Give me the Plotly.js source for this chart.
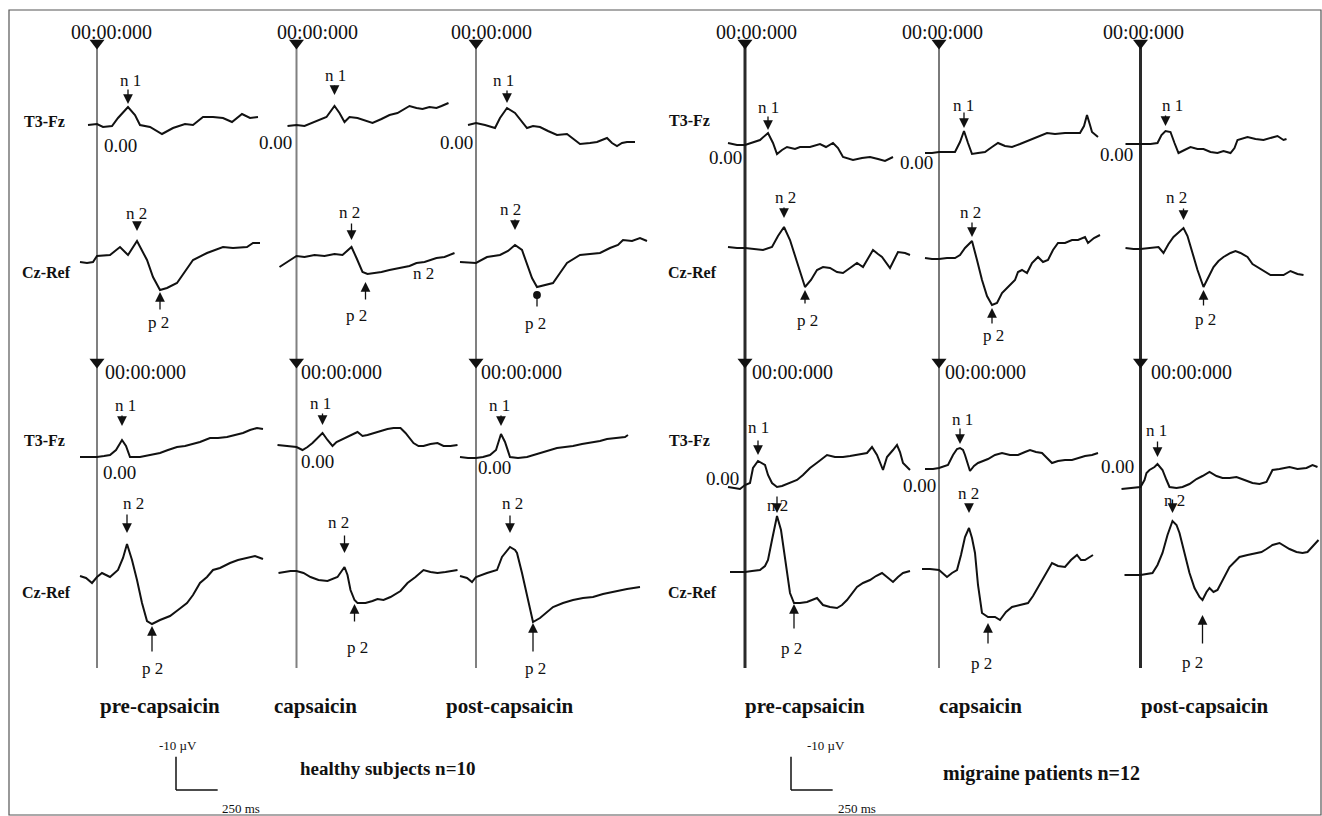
<!DOCTYPE html>
<html><head><meta charset="utf-8">
<script src="https://cdn.plot.ly/plotly-3.0.1.min.js"></script>
<style>html,body{margin:0;padding:0;background:#fff}#chart{width:1322px;height:816px}</style>
</head><body><div id="chart"></div>
<script>
// ================= DATA =================
const columnLabels = ['pre-capsaicin','capsaicin','post-capsaicin','pre-capsaicin','capsaicin','post-capsaicin'];
const groupLabels = ['healthy subjects n=10','migraine patients n=12'];
const channelLabels = ['T3-Fz','Cz-Ref'];
const onsetLabel = '00:00:000';
const zeroLabel = '0.00';
const scaleAmpLabel = '-10 µV';
const scaleTimeLabel = '250 ms';
const scaleAmp = -10;   // µV
const scaleTime = 250;  // ms

// time (ms) / amplitude (µV, negative up) — upper block
const hPreT3_t  = [-54,0,36,90,126,186,228,258,318,390,456,528,576,636,696,756,810,870,918,966];
const hPreT3_v  = [0,-0.3,0.6,0.3,-2.1,-5.4,-3,0,0.6,2.7,0.9,-0.3,0,-2.4,-2.4,-2.1,-0.9,-3.3,-2.1,-2.4];
const hPreCz_t  = [-102,-60,-24,0,78,138,186,240,300,336,378,420,480,528,576,660,756,816,900,936,978];
const hPreCz_v  = [1.5,1.8,1.5,-0.3,-0.6,-3,-0.6,-4.8,0.9,6,9.9,9.3,7.8,4.5,0.9,-1.2,-3,-2.7,-3,-4.2,-4.2];
const hCapT3_t  = [-54,0,48,108,180,228,258,288,318,366,408,456,510,558,606,648,678,720,756,798,840,870,912];
const hCapT3_v  = [0.3,0,0.3,-0.9,-2.4,-5.7,-3.6,-0.9,-2.4,-2.1,-1.5,-0.6,-1.8,-3,-3.6,-4.8,-5.7,-5.1,-4.8,-5.4,-5.1,-5.7,-6.6];
const hCapCz_t  = [-102,-42,0,48,108,168,228,276,306,330,360,396,426,468,510,558,618,678,720,768,840,888,948];
const hCapCz_v  = [3.3,1.2,0,0.3,-0.3,0,-0.6,-0.3,-1.8,-2.7,0.6,4.8,5.4,5.1,4.8,4.2,3.6,3,2.1,1.8,0.6,0.3,-0.9];
const hPostT3_t = [-48,0,54,114,144,186,234,276,306,342,384,432,486,546,594,624,684,726,786,816,846,876,906,954];
const hPostT3_v = [0.6,0,0.6,1.5,-1.5,-4.5,-3,-0.3,1.5,0.9,1.2,2.4,3.6,3.3,5.1,6.3,6,5.7,4.5,6,6.9,6,5.7,5.7];
const hPostCz_t = [-96,-36,0,66,144,192,234,276,306,336,366,414,462,504,546,624,684,744,804,852,882,936,984,1026];
const hPostCz_v = [-0.3,0,0,-1.8,-2.4,-3.6,-5.4,-3.9,0,4.5,7.2,6.6,6,3,0,-2.4,-2.7,-3,-4.5,-5.4,-6.9,-6.6,-7.5,-6.6];
const mPreT3_t  = [-102,-48,0,42,90,138,168,192,222,252,300,330,390,450,486,528,558,588,648,702,750,798,840,888];
const mPreT3_v  = [-0.6,0,0,-0.6,-1.5,-3.6,-0.6,2.7,1.5,0.6,1.2,0.6,0.6,-0.3,0.6,-0.6,0.9,3.6,4.5,3.9,3.6,4.2,4.8,3.6];
const mPreCz_t  = [-102,-48,0,60,108,162,198,234,270,312,360,396,432,468,510,552,588,630,672,708,738,768,798,822,870,918,960,990];
const mPreCz_v  = [-0.3,0,0,0.3,0.6,-0.3,-3.6,-6.3,-2.4,4.2,11.7,9.6,6.6,5.7,6,7.2,7.5,6,4.5,5.7,3,0.6,1.8,2.7,6,1.2,1.5,2.1];
const mCapT3_t  = [-84,-42,0,54,96,126,150,174,198,234,276,318,354,396,438,486,558,606,648,696,756,804,846,870,888,906,918,954];
const mCapT3_v  = [0.3,0.3,0,0,0,-3,-6.3,-2.7,0.6,0.3,0,-1.5,-2.7,-1.8,-1.5,-2.4,-3.9,-4.8,-5.7,-5.4,-5.7,-5.7,-5.7,-7.8,-11.1,-8.1,-6,-4.5];
const mCapCz_t  = [-84,-42,0,48,96,126,156,198,228,258,288,318,348,378,414,456,474,498,528,558,594,624,654,684,714,756,798,834,876,894,930,966];
const mCapCz_v  = [-0.3,0,0,-0.3,-0.3,-1.2,-3.3,-5.4,0.3,6.3,11.1,13.8,13.2,10.2,8.4,6.3,3.9,3.3,4.2,1.2,-0.6,0.9,0.3,-2.7,-4.8,-4.8,-5.7,-5.7,-6.6,-4.8,-6.3,-7.2];
const mPostT3_t = [-90,-48,0,60,102,126,150,180,204,228,264,300,342,378,420,462,498,540,564,582,642,690,738,780,822,858,876];
const mPostT3_v = [0,0,0,0,-0.3,-2.7,-3.9,-3.6,-0.3,2.7,1.8,0.9,1.5,1.5,2.4,2.7,2.1,2.7,1.2,-1.2,-2.1,-1.5,-1.2,-1.8,-2.4,-1.2,-1.5];
const mPostCz_t = [-90,-42,0,60,108,138,168,198,228,258,282,300,342,378,408,438,468,498,540,570,600,642,672,702,738,780,822,858,900,942,978];
const mPostCz_v = [-0.3,0,0,-0.3,-0.6,1.2,-1.5,-3.6,-5.1,-6.3,-3.9,-0.6,6.3,11.4,8.4,5.4,3.6,2.4,1.2,0.6,1.2,2.4,4.5,5.4,6.6,7.8,7.8,7.8,6.6,7.5,7.8];

// lower block
const hPreT3b_t  = [-102,-42,0,42,78,114,150,174,198,258,318,378,426,480,528,576,618,678,726,780,828,876,918,960,996];
const hPreT3b_v  = [0,0,0,-0.3,-0.6,-2.1,-5.1,-3.3,0,0,-0.6,-1.2,-2.1,-3,-3.3,-3.9,-4.5,-5.7,-5.7,-6,-6.6,-7.2,-8.1,-8.7,-8.4];
const hPreCzb_t  = [-102,-66,-30,0,30,78,126,156,180,210,240,270,300,330,378,438,486,540,576,618,660,696,738,798,846,900,948,996];
const hPreCzb_v  = [-0.3,0.3,1.8,0,-1.2,0,-2.1,-5.7,-9.9,-5.1,0.9,7.8,13.2,14.1,12.9,11.7,9.9,7.8,5.4,1.8,0,-2.1,-2.7,-4.2,-5.1,-5.7,-6.3,-5.4];
const hCapT3b_t  = [-114,-66,-36,0,36,66,96,126,156,186,216,240,264,306,366,396,426,486,546,582,624,654,702,732,762,804,846,882,924,966];
const hCapT3b_v  = [-0.6,-0.3,-0.3,0,0.9,0,-1.2,-2.7,-4.2,-2.1,-0.3,-1.5,-2.1,-3,-4.5,-3.3,-3.6,-4.5,-5.4,-5.7,-5.7,-4.2,-1.2,-0.3,-0.3,-0.9,-1.2,-0.3,-0.3,-0.6];
const hCapCzb_t  = [-108,-36,0,42,84,132,186,222,246,288,306,324,348,366,414,456,486,522,564,624,666,714,762,804,846,894,966];
const hCapCzb_v  = [0.6,0,0,0.6,1.8,2.7,3,2.4,1.8,-1.2,1.2,5.7,8.7,9.6,9.6,9,8.4,8.7,7.8,6,3.6,1.8,-0.3,0.3,0.6,0.3,-0.3];
const hPostT3b_t = [-96,-48,0,42,84,120,150,174,204,252,306,384,432,486,534,582,636,684,744,786,834,864,894,912];
const hPostT3b_v = [-0.3,0,0,-0.3,-0.9,-2.4,-7.2,-4.8,-0.3,0,-0.3,-1.5,-2.1,-3,-3.3,-3.6,-4.2,-4.5,-5.1,-5.7,-6,-6,-6.3,-6.9];
const hPostCzb_t = [-96,-54,-24,0,66,126,156,186,204,234,246,276,306,342,384,426,462,522,582,642,702,762,822,864,906,984];
const hPostCzb_v = [-0.3,0.3,1.5,0,-1.2,-2.1,-6,-8.1,-9,-8.1,-7.2,-1.2,5.4,13.5,12.3,10.5,9,7.8,6.9,6.3,6,5.1,4.5,3.9,3.6,3];
const mPreT3b_t  = [-102,-30,0,30,48,78,120,138,162,192,222,252,312,348,390,438,492,540,588,630,672,732,762,792,828,852,888,912,930,948,990];
const mPreT3b_v  = [0.6,1.2,0,-0.6,-5.1,-7.2,-6,-3,-0.6,0.6,0.3,-0.3,-1.5,-3,-5.1,-6.9,-9,-8.4,-8.4,-8.7,-9,-9.6,-11.4,-9,-4.5,-8.4,-10.5,-12,-9.9,-6.6,-4.5];
const mPreCzb_t  = [-90,-42,0,42,90,120,138,162,192,216,240,270,294,330,372,402,432,468,510,552,582,612,642,672,708,750,786,822,852,888,918,948,990];
const mPreCzb_v  = [0,0,0,-0.3,-0.6,-1.8,-3.6,-9.6,-16.8,-12.6,-4.5,6.3,9.3,9.3,9,8.4,7.8,9.9,10.5,10.8,9.9,8.4,6.3,4.5,3.3,2.4,1.2,0.3,1.5,3,1.5,0.3,-0.3];
const mCapT3b_t  = [-84,-36,0,54,84,108,126,144,156,186,210,234,264,294,336,378,426,474,516,546,582,618,648,678,714,756,798,834,876,918,954];
const mCapT3b_v  = [0.3,0.3,0,-0.9,-3.9,-5.7,-6,-5.4,-3.9,0.9,-0.6,-1.5,-2.1,-2.7,-3.9,-4.5,-3.9,-3.9,-4.8,-5.4,-4.8,-4.5,-3,-1.5,-2.1,-2.4,-2.4,-3,-3.6,-3.9,-4.5];
const mCapCzb_t  = [-102,-54,0,24,48,78,108,132,156,180,198,216,234,258,294,336,366,402,438,486,534,564,594,636,678,714,756,792,828,852,876,924];
const mCapCzb_v  = [-0.3,-0.3,0,1.2,2.1,0.9,0,-4.5,-9.9,-12.6,-9.6,-5.1,4.5,12.9,14.1,14.1,15,12.6,11.1,10.5,9.9,7.8,5.1,1.5,-2.1,-1.2,-0.9,-3,-4.5,-3,-3,-4.5];
const mPostT3b_t = [-114,-54,0,24,36,54,84,102,132,156,174,216,252,294,336,372,414,456,492,534,576,624,672,714,756,774,792,834,894,942,996,1032,1062];
const mPostT3b_v = [0.6,0.3,0,-2.1,-4.2,-5.1,-6,-6.9,-5.1,-2.1,0,0.3,0,-0.9,-2.4,-3.3,-4.5,-3.3,-2.7,-2.7,-3,-2.1,-1.2,-0.9,-1.5,-3.3,-5.1,-5.4,-6,-5.4,-5.7,-6.6,-6];
const mPostCzb_t = [-96,-48,0,72,102,132,162,192,216,234,264,294,324,354,372,396,414,438,462,498,534,564,594,642,696,726,756,792,834,864,894,936,972,1002,1026,1068];
const mPostCzb_v = [0,0,0,-0.6,-3,-6.6,-12,-16.2,-15,-12.6,-6.9,-0.6,3.9,6.6,7.5,5.1,3.9,5.1,4.5,0.9,-2.4,-3.9,-5.4,-6,-6.6,-6.9,-7.8,-9,-9.6,-8.7,-7.8,-6.9,-6.6,-6.9,-8.1,-10.5];

// peak markers: order per column (upper block, then lower block): n1 on T3-Fz, n2 and p2 on Cz-Ref
const peakLabels = ['n 1','n 2','p 2'];
const peakLatencyUpper = [186,240,378, 228,330,414, 186,234,366, 138,234,360, 150,198,318, 150,258,378];
const peakLatencyLower = [150,180,330, 156,288,348, 150,204,342, 78,192,294, 126,180,294, 102,192,372];
const extraLabel = 'n 2';

// ================= LAYOUT / DRAWING =================
const W = 1322, H = 816;
const MS_PER_PX = 6, UV_PER_PX = 0.3;
const FONT = '"Liberation Serif","Times New Roman",serif';
const INK = '#111';
const colX0 = [97, 296.5, 476, 745, 939, 1140.5];
const rowBase = [
  [125,125,123,145,152,144],
  [257,256,263,248,259,249],
  [457,447,458,485,468,487],
  [577,571,577,572,570,575]
];
const colLine = [
  {color:'#808080',width:2},{color:'#808080',width:2},{color:'#808080',width:2},
  {color:'#2a2a2a',width:3},{color:'#7a7a7a',width:2},{color:'#2a2a2a',width:3}
];

const series = [
  [hPreT3_t,hPreT3_v,hPreCz_t,hPreCz_v,hPreT3b_t,hPreT3b_v,hPreCzb_t,hPreCzb_v],
  [hCapT3_t,hCapT3_v,hCapCz_t,hCapCz_v,hCapT3b_t,hCapT3b_v,hCapCzb_t,hCapCzb_v],
  [hPostT3_t,hPostT3_v,hPostCz_t,hPostCz_v,hPostT3b_t,hPostT3b_v,hPostCzb_t,hPostCzb_v],
  [mPreT3_t,mPreT3_v,mPreCz_t,mPreCz_v,mPreT3b_t,mPreT3b_v,mPreCzb_t,mPreCzb_v],
  [mCapT3_t,mCapT3_v,mCapCz_t,mCapCz_v,mCapT3b_t,mCapT3b_v,mCapCzb_t,mCapCzb_v],
  [mPostT3_t,mPostT3_v,mPostCz_t,mPostCz_v,mPostT3b_t,mPostT3b_v,mPostCzb_t,mPostCzb_v]
];

const layout = {
  width:W, height:H, margin:{l:0,r:0,t:0,b:0},
  paper_bgcolor:'#ffffff', plot_bgcolor:'rgba(0,0,0,0)',
  showlegend:false, shapes:[], annotations:[], hovermode:false
};

function xRef(c){ return c===0 ? 'x' : 'x'+(c+1); }
for(let c=0;c<6;c++){
  layout[c===0?'xaxis':'xaxis'+(c+1)] = {domain:[0,1], range:[-colX0[c]*MS_PER_PX,(W-colX0[c])*MS_PER_PX],
    visible:false, fixedrange:true, anchor:'free', position:0};
}
let yCount = 0;
function addY(basePx, unitPerPx){
  yCount++;
  layout[yCount===1?'yaxis':'yaxis'+yCount] = {domain:[0,1], range:[(H-basePx)*unitPerPx, -basePx*unitPerPx],
    visible:false, fixedrange:true, anchor:'free', position:0};
  return yCount===1 ? 'y' : 'y'+yCount;
}
const yPix = addY(0,1);
const yScale = addY(790, UV_PER_PX);

const data = [];
const panelY = [];
for(let c=0;c<6;c++){
  panelY.push([]);
  for(let r=0;r<4;r++){
    const yr = addY(rowBase[r][c], UV_PER_PX);
    panelY[c].push(yr);
    data.push({type:'scatter', mode:'lines', x:series[c][2*r], y:series[c][2*r+1],
      xaxis:xRef(c), yaxis:yr, line:{color:INK,width:2}, hoverinfo:'skip'});
  }
  // onset triangles
  data.push({type:'scatter', mode:'markers', x:[0,0], y:[43,362], xaxis:xRef(c), yaxis:yPix,
    marker:{symbol:'triangle-down', size:13, color:INK}, hoverinfo:'skip'});
  // onset vertical line
  layout.shapes.push({type:'line', layer:'below', xref:xRef(c), yref:yPix, x0:0, x1:0, y0:43, y1:668, line:colLine[c]});
}

// frame
layout.shapes.push({type:'rect', xref:'paper', yref:yPix, x0:9/W, x1:1321/W, y0:10, y1:815, line:{color:'#555',width:1.2}});

// scale bars (drawn with the library scales)
[[0,474],[3,276]].forEach(([c,t0])=>{
  layout.shapes.push({type:'line', xref:xRef(c), yref:yScale, x0:t0, x1:t0, y0:0, y1:scaleAmp, line:{color:INK,width:1.5}});
  layout.shapes.push({type:'line', xref:xRef(c), yref:yScale, x0:t0, x1:t0+scaleTime, y0:0, y1:0, line:{color:INK,width:1.5}});
});

function txt(x,y,text,size,extra){
  return Object.assign({xref:'paper', yref:'paper', x:x/W, y:1-y/H, text:text, showarrow:false,
    font:{family:FONT,size:size,color:INK}, xanchor:'center', yanchor:'middle'}, extra||{});
}
const A = layout.annotations;

// onset labels
[111.7,317,492,756,942,1143].forEach(x=>A.push(txt(x,32,onsetLabel,20)));
[103,299,479,750,943,1149].forEach(x=>A.push(txt(x,372,onsetLabel,20,{xanchor:'left'})));
// baseline labels
[[120,145],[275,142],[456,142],[725,157],[916,163],[1116,154],
 [119,472],[317,461],[494,468],[722,478],[919,485],[1117,466]].forEach(p=>A.push(txt(p[0],p[1],zeroLabel,19)));
// channel labels
[[67,121,0],[73,273,1],[67,440,0],[73,592,1],[712,120,0],[719,273,1],[712,440,0],[719,592,1]].forEach(p=>
  A.push(txt(p[0],p[1],'<b>'+channelLabels[p[2]]+'</b>',16,{xanchor:'right'})));
// condition labels
[160,315,510,805,980,1205].forEach((x,i)=>A.push(txt(x,706,'<b>'+columnLabels[i]+'</b>',21)));
A.push(txt(388,768,'<b>'+groupLabels[0]+'</b>',19));
A.push(txt(1041,773,'<b>'+groupLabels[1]+'</b>',20));
// scale labels
A.push(txt(178,745,scaleAmpLabel,13)); A.push(txt(826,745,scaleAmpLabel,13));
A.push(txt(241,808,scaleTimeLabel,13)); A.push(txt(857,808,scaleTimeLabel,13));
A.push(txt(423,274,extraLabel,17));

// peak arrows + labels : [labelDy, tailDy, standoff, labelDx] in px relative to the peak
const peakPlacement = [
  [-27,-19,3,2],[-28,-20,10,-1],[32,21,2,-2],
  [-31,-22,11,1],[-35,-25,7,-2],[41,27,8,-9],
  [-28,-19,5,-4],[-36,-27,15,-5],[36,21,8,-2],
  [-26,-18,3,0],[-30,-21,9,1],[33,18,3,2],
  [-26,-20,3,-1],[-29,-20,4,-2],[30,20,3,1],
  [-26,-17,5,7],[-31,-21,8,-7],[32,20,3,2],
  [-35,-26,14,3],[-41,-31,11,6],[44,29,2,0],
  [-30,-21,8,-2],[-45,-33,14,-6],[47,23,4,3],
  [-29,-20,8,-2],[-44,-33,14,2],[46,31,1,2],
  [-34,-22,6,0],[-11,-21,3,0],[45,27,1,-3],
  [-29,-21,4,2],[-35,-25,15,-1],[46,28,6,-7],
  [-34,-24,7,-1],[-21,-23,8,2],[62,45,15,-10]
];
function valueAt(ts,vs,t){
  let best=0; for(let i=1;i<ts.length;i++){ if(Math.abs(ts[i]-t)<Math.abs(ts[best]-t)) best=i; }
  return vs[best];
}
const allLat = peakLatencyUpper.concat(peakLatencyLower);
allLat.forEach((lat,k)=>{
  const block = k<18 ? 0 : 1;
  const c = Math.floor((k%18)/3);
  const m = k%3;
  const r = block*2 + (m===0 ? 0 : 1);
  const v = valueAt(series[c][2*r], series[c][2*r+1], lat);
  const [ly,tail,so,lx] = peakPlacement[k];
  A.push({xref:xRef(c), yref:panelY[c][r], x:lat, y:v, ax:0, ay:tail, axref:'pixel', ayref:'pixel',
    text:'', showarrow:true, arrowhead:(k===8?6:2), arrowsize:1.5, arrowwidth:1.3, arrowcolor:INK, standoff:so});
  A.push({xref:xRef(c), yref:panelY[c][r], x:lat, y:v, xshift:lx, yshift:-ly, text:peakLabels[m], showarrow:false,
    font:{family:FONT,size:17,color:INK}, xanchor:'center', yanchor:'middle'});
});

Plotly.newPlot('chart', data, layout, {displayModeBar:false, staticPlot:true});
</script>
</body></html>
